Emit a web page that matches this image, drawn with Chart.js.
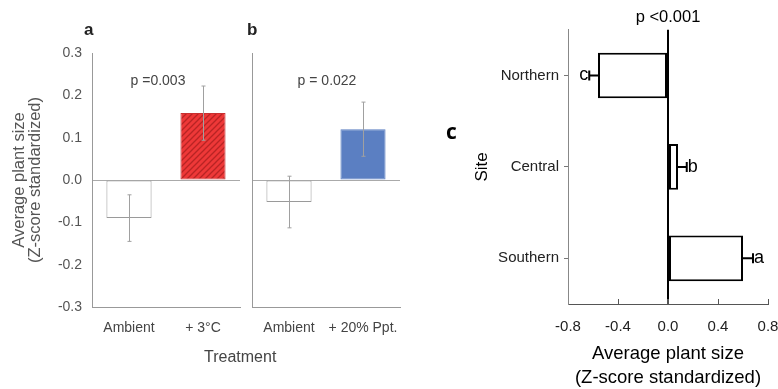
<!DOCTYPE html>
<html><head><meta charset="utf-8">
<script src="https://cdn.jsdelivr.net/npm/chart.js@4.4.1/dist/chart.umd.min.js"></script>
<style>
html,body{margin:0;padding:0;background:#fff;}
#wrap{position:relative;width:778px;height:389px;overflow:hidden;font-family:"Liberation Sans",Arial,sans-serif;}
canvas{position:absolute;top:0;}
.lab{position:absolute;line-height:1;white-space:nowrap;}
</style></head>
<body><div id="wrap">
<canvas id="cA" width="245" height="389" style="left:0"></canvas>
<canvas id="cB" width="170" height="389" style="left:245px"></canvas>
<canvas id="cC" width="338" height="389" style="left:440px"></canvas>
<div class="lab" style="left:84px;top:21px;font-weight:bold;font-size:17px;color:#222">a</div>
<div class="lab" style="left:247px;top:21px;font-weight:bold;font-size:17px;color:#222">b</div>
<div class="lab" style="left:446px;top:121px;font-weight:bold;font-size:21px;color:#000;font-family:'Open Sans',sans-serif">c</div>
<div class="lab" style="left:204px;top:349px;font-size:16px;color:#444">Treatment</div>
</div>
<script>
// ---- data ----
const treatA = ['Ambient', '+ 3°C'];
const meanA = [-0.09, 0.158];
const errA = [0.055, 0.064];
const pA = 'p =0.003';

const treatB = ['Ambient', '+ 20% Ppt.'];
const meanB = [-0.052, 0.12];
const errB = [0.061, 0.064];
const pB = 'p = 0.022';

const sites = ['Northern', 'Central', 'Southern'];
const meanC = [-0.56, 0.08, 0.6];
const errC = [0.07, 0.07, 0.08];
const lettersC = ['c', 'b', 'a'];
const pC = 'p <0.001';

const FONT = '"Liberation Sans", Arial, sans-serif';

function hatch() {
  const c = document.createElement('canvas');
  c.width = 6; c.height = 6;
  const g = c.getContext('2d');
  g.fillStyle = '#ee3838'; g.fillRect(0, 0, 6, 6);
  g.strokeStyle = '#b82424'; g.lineWidth = 1.3;
  g.beginPath();
  g.moveTo(-1, 7); g.lineTo(7, -1);
  g.moveTo(-4, 4); g.lineTo(4, -4);
  g.moveTo(2, 10); g.lineTo(10, 2);
  g.stroke();
  return g.createPattern(c, 'repeat');
}

const errorBars = {
  id: 'errorBars',
  afterDatasetsDraw(chart, args, o) {
    if (!o || !o.errors) return;
    const ctx = chart.ctx;
    const ds = chart.data.datasets[0];
    const meta = chart.getDatasetMeta(0);
    const horiz = chart.options.indexAxis === 'y';
    const vs = horiz ? chart.scales.x : chart.scales.y;
    ctx.save();
    ctx.strokeStyle = o.color; ctx.lineWidth = o.width;
    meta.data.forEach((el, i) => {
      const v = ds.data[i], e = o.errors[i];
      const s = v < 0 ? -1 : 1;
      const lo = o.oneSided ? v : v - e;
      const hi = o.oneSided ? v + s * e : v + e;
      const p1 = vs.getPixelForValue(lo), p2 = vs.getPixelForValue(hi);
      ctx.beginPath();
      if (horiz) {
        const y = el.y;
        ctx.moveTo(p1, y); ctx.lineTo(p2, y);
        ctx.moveTo(p2, y - o.cap); ctx.lineTo(p2, y + o.cap);
      } else {
        const x = Math.round(el.x) + 0.5;
        ctx.moveTo(x, p1); ctx.lineTo(x, p2);
        ctx.moveTo(x - o.cap, p1); ctx.lineTo(x + o.cap, p1);
        ctx.moveTo(x - o.cap, p2); ctx.lineTo(x + o.cap, p2);
      }
      ctx.stroke();
      if (o.letters) {
        ctx.fillStyle = '#000';
        ctx.font = o.letterFont;
        ctx.textBaseline = 'middle';
        ctx.textAlign = s < 0 ? 'right' : 'left';
        ctx.fillText(o.letters[i], p2 + s * 1, el.y);
      }
    });
    ctx.restore();
  }
};

const notes = {
  id: 'notes',
  afterDraw(chart, args, o) {
    if (!o || !o.items) return;
    const ctx = chart.ctx;
    ctx.save();
    o.items.forEach(it => {
      ctx.font = it.font; ctx.fillStyle = it.color;
      ctx.textAlign = 'center'; ctx.textBaseline = 'middle';
      ctx.fillText(it.text, it.x, it.y);
    });
    ctx.restore();
  }
};

function zeroGrid(col, w) {
  return {
    color: c => (c.tick && c.tick.value === 0) ? col : 'rgba(0,0,0,0)',
    lineWidth: c => (c.tick && c.tick.value === 0) ? w : 1,
    drawTicks: false
  };
}

function vertChart(id, labels, data, colors, borders, errs, pText, pX, showY, padR) {
  return new Chart(document.getElementById(id), {
    type: 'bar',
    data: { labels: labels, datasets: [{
      data: data, backgroundColor: colors, borderColor: borders,
      borderWidth: 1, borderSkipped: false,
      categoryPercentage: 1, barPercentage: 0.61
    }]},
    plugins: [errorBars, notes],
    options: {
      responsive: false, animation: false, devicePixelRatio: 1,
      layout: { padding: { top: 53, right: padR, left: 0, bottom: 0 } },
      plugins: {
        legend: { display: false }, tooltip: { enabled: false },
        errorBars: { errors: errs, color: '#a0a0a0', width: 1, cap: 2 },
        notes: { items: [{ text: pText, x: pX, y: 81, font: '14px ' + FONT, color: '#444' }] }
      },
      scales: {
        x: {
          grid: { display: false, drawTicks: false },
          border: { color: '#999', width: 1 },
          ticks: { color: '#444', font: { size: 14, family: FONT }, padding: 13, maxRotation: 0 },
          afterFit: s => { s.height = 82; s.paddingLeft = 0; s.paddingRight = 0; }
        },
        y: {
          min: -0.3, max: 0.3,
          grid: zeroGrid('#aaa', 1),
          border: { color: '#999', width: 1 },
          ticks: { display: showY, stepSize: 0.1, color: '#555', padding: 10,
                   font: { size: 14, family: FONT }, callback: v => v.toFixed(1) },
          title: { display: showY, text: ['Average plant size', '(Z-score standardized)'],
                   color: '#555', font: { size: 16.5, family: FONT, lineHeight: 0.95 },
                   padding: { top: 12, bottom: 0 } },
          afterFit: s => { s.width = showY ? 92 : 7; s.paddingTop = 0; s.paddingBottom = 0; }
        }
      }
    }
  });
}

vertChart('cA', treatA, meanA, ['#ffffff', hatch()], ['#9a9a9a', '#c83030'], errA, pA, 158, true, 5);
vertChart('cB', treatB, meanB, ['#ffffff', '#5b7fc2'], ['#9a9a9a', '#5b7fc2'], errB, pB, 82, false, 15);

new Chart(document.getElementById('cC'), {
  type: 'bar',
  data: { labels: sites, datasets: [{
    data: meanC, backgroundColor: '#ffffff', borderColor: '#000000',
    borderWidth: 2, borderSkipped: false,
    categoryPercentage: 1, barPercentage: 0.5
  }]},
  plugins: [errorBars],
  options: {
    indexAxis: 'y',
    responsive: false, animation: false, devicePixelRatio: 1,
    layout: { padding: { top: 0, right: 10, left: 0, bottom: 0 } },
    plugins: {
      legend: { display: false }, tooltip: { enabled: false },
      title: { display: true, text: pC, fullSize: false, color: '#000',
               font: { size: 16.5, family: FONT, weight: 'normal', lineHeight: 1.2 },
               padding: { top: 8, bottom: 2 } },
      errorBars: { errors: errC, color: '#000', width: 2, cap: 5, oneSided: true,
                   letters: lettersC, letterFont: '18px ' + FONT }
    },
    scales: {
      x: {
        min: -0.8, max: 0.8,
        grid: { color: c => (c.tick && c.tick.value === 0) ? '#000' : 'rgba(0,0,0,0)',
                lineWidth: c => (c.tick && c.tick.value === 0) ? 2 : 1,
                tickColor: '#555', tickLength: -5 },
        border: { color: '#555', width: 1 },
        ticks: { stepSize: 0.4, color: '#222', padding: 19, font: { size: 15, family: FONT },
                 callback: v => v.toFixed(1) },
        title: { display: true, text: ['Average plant size', '(Z-score standardized)'],
                 color: '#000', font: { size: 18.5, family: FONT, lineHeight: 1.25 },
                 padding: { top: 0, bottom: 0 } },
        afterFit: s => { s.height = 85; s.paddingLeft = 0; s.paddingRight = 0; }
      },
      y: {
        grid: { offset: false, drawOnChartArea: false, tickLength: 4, color: '#777' },
        border: { color: '#888', width: 1 },
        ticks: { color: '#222', padding: 5, font: { size: 15, family: FONT } },
        title: { display: true, text: 'Site', color: '#000',
                 font: { size: 17, family: FONT, lineHeight: 1.2 }, padding: { top: 32, bottom: 0 } },
        afterFit: s => { s.width = 128; s.paddingTop = 0; s.paddingBottom = 0; }
      }
    }
  }
});
</script>
</body></html>
